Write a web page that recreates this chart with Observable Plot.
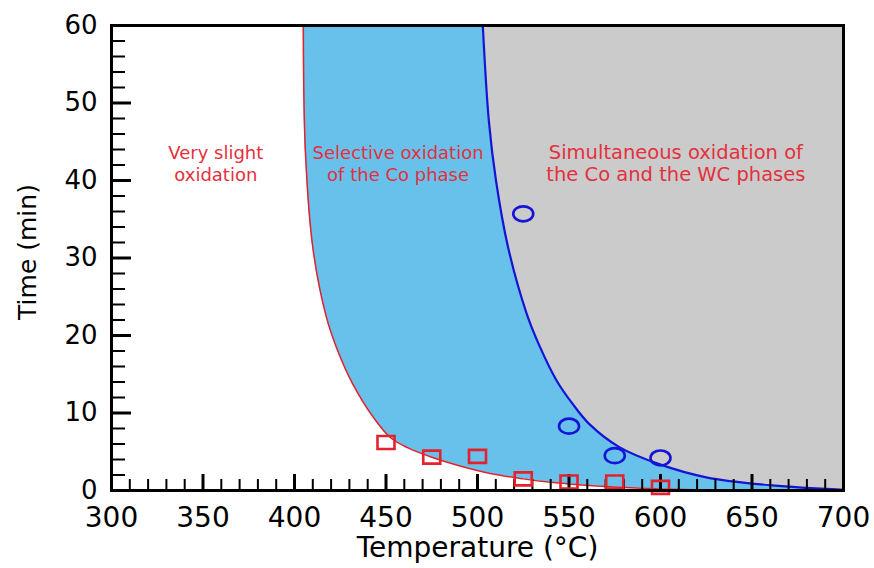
<!DOCTYPE html>
<html>
<head>
<meta charset="utf-8">
<script src="https://cdn.jsdelivr.net/npm/d3@7"></script>
<script src="https://cdn.jsdelivr.net/npm/@observablehq/plot@0.6"></script>
<style>
  html, body { margin: 0; padding: 0; background: #fff; overflow: hidden; }
  #chart svg { display: block; }
</style>
</head>
<body>
<div id="chart"></div>
<script>
// ---- data ----
const xTicks = [300, 350, 400, 450, 500, 550, 600, 650, 700];
const yTicks = [0, 10, 20, 30, 40, 50, 60];
const xMinorTicks = d3.range(310, 700, 10).filter(v => v % 50 !== 0);
const yMinorTicks = d3.range(2, 60, 2).filter(v => v % 10 !== 0);

// red boundary (onset of Co oxidation)
const redCurveTemp = [404.8, 406, 410.2, 417.5, 423.5, 431.7, 443.2, 452.5, 462, 475, 490, 507, 525, 540, 555, 575, 600, 625, 650, 700];
const redCurveTime = [60, 43.5, 31, 22.3, 18.1, 13.8, 9.4, 6.8, 5.5, 4.3, 3.2, 2.2, 1.5, 1.05, 0.75, 0.45, 0.2, 0.05, 0, 0];

// blue boundary (onset of WC oxidation)
const blueCurveTemp = [502.9, 506.2, 510.1, 516.7, 526.9, 534.0, 543.2, 551.9, 561, 577.5, 599.3, 625, 661, 700];
const blueCurveTime = [60, 47.7, 40, 31.4, 22.8, 18.6, 14.2, 11.2, 8.6, 5.6, 3.4, 1.7, 0.65, 0.1];

// measured points
const squareTemp = [450, 475, 500, 525, 550, 575, 600];
const squareTime = [6.2, 4.3, 4.4, 1.5, 1.1, 1.1, 0.4];
const circleTemp = [525, 550, 575, 600];
const circleTime = [35.7, 8.3, 4.5, 4.2];

// region labels
const regionText = ["Very slight\noxidation", "Selective oxidation\nof the Co phase", "Simultaneous oxidation of\nthe Co and the WC phases"];
const regionTemp = [357, 456.6, 608.4];
const regionTime = [42.3, 42.3, 42.3];

const xLabel = "Temperature (°C)";
const yLabel = "Time (min)";

// ---- tables ----
const redCurve = redCurveTemp.map((T, i) => ({T, t: redCurveTime[i]}));
const blueCurve = blueCurveTemp.map((T, i) => ({T, t: blueCurveTime[i]}));
const squares = squareTemp.map((T, i) => ({T, t: squareTime[i]}));
const circles = circleTemp.map((T, i) => ({T, t: circleTime[i]}));
const regions = regionText.map((s, i) => ({s, T: regionTemp[i], t: regionTime[i]}));

// ---- layout ----
const W = 874, H = 568;
const mL = 111, mR = 31, mT = 25, mB = 78;
const innerW = W - mL - mR, innerH = H - mT - mB;

const RED = "#e3222d", BLUE = "#1414d6", FILL_BLUE = "#67c1ea", FILL_GRAY = "#cbcbcb", TEXT_RED = "#e4303e";
const CURVE = "catmull-rom";

const rectSymbol = {draw(ctx) { const a = 8.5, b = 6.5; ctx.moveTo(-a, -b); ctx.lineTo(a, -b); ctx.lineTo(a, b); ctx.lineTo(-a, b); ctx.closePath(); }};
const ellipseSymbol = {draw(ctx) {
  const rx = 10, ry = 7.5, k = 0.5523;
  ctx.moveTo(rx, 0);
  ctx.bezierCurveTo(rx, k * ry, k * rx, ry, 0, ry);
  ctx.bezierCurveTo(-k * rx, ry, -rx, k * ry, -rx, 0);
  ctx.bezierCurveTo(-rx, -k * ry, -k * rx, -ry, 0, -ry);
  ctx.bezierCurveTo(k * rx, -ry, rx, -k * ry, rx, 0);
  ctx.closePath();
}};

const chart = Plot.plot({
  width: W, height: H,
  marginLeft: mL, marginRight: mR, marginTop: mT, marginBottom: mB,
  style: {fontFamily: "'DejaVu Sans', sans-serif", background: "#fff", color: "#000"},
  x: {domain: [300, 700]},
  y: {domain: [0, 60]},
  marks: [
    Plot.areaY(redCurve, {x: "T", y1: "t", y2: 60, curve: CURVE, fill: FILL_BLUE}),
    Plot.areaY(blueCurve, {x: "T", y1: "t", y2: 60, curve: CURVE, fill: FILL_GRAY}),
    Plot.line(redCurve, {x: "T", y: "t", curve: CURVE, stroke: RED, strokeWidth: 1.5}),
    Plot.line(blueCurve, {x: "T", y: "t", curve: CURVE, stroke: BLUE, strokeWidth: 2.2}),
    // inward ticks
    Plot.ruleX(xTicks, {x: d => d, insetTop: innerH - 16, stroke: "#000", strokeWidth: 3}),
    Plot.ruleX(xMinorTicks, {x: d => d, insetTop: innerH - 11, stroke: "#000", strokeWidth: 2}),
    Plot.ruleY(yTicks, {y: d => d, insetRight: innerW - 20, stroke: "#000", strokeWidth: 3}),
    Plot.ruleY(yMinorTicks, {y: d => d, insetRight: innerW - 14, stroke: "#000", strokeWidth: 2}),
    // markers
    Plot.dot(squares, {x: "T", y: "t", symbol: rectSymbol, stroke: RED, strokeWidth: 2.6, fill: "none"}),
    Plot.dot(circles, {x: "T", y: "t", symbol: ellipseSymbol, stroke: BLUE, strokeWidth: 2.6, fill: "none"}),
    // region labels
    Plot.text(regions.slice(0, 2), {x: "T", y: "t", text: "s", fill: TEXT_RED, fontSize: 18, lineHeight: 1.222, lineAnchor: "middle"}),
    Plot.text(regions.slice(2), {x: "T", y: "t", text: "s", fill: TEXT_RED, fontSize: 19.5, lineHeight: 1.128, lineAnchor: "middle"}),
    // axes labels
    Plot.axisX(xTicks, {tickSize: 0, tickPadding: 17, fontSize: 28, label: null, fill: "#000"}),
    Plot.axisY(yTicks, {tickSize: 0, tickPadding: 14, fontSize: 26, label: null, fill: "#000"}),
    Plot.text([xLabel], {frameAnchor: "bottom", text: d => d, dy: 58, fontSize: 28, textAnchor: "middle", lineAnchor: "middle", fill: "#000"}),
    Plot.text([yLabel], {frameAnchor: "left", text: d => d, rotate: -90, dx: -84, dy: -6, fontSize: 25, textAnchor: "middle", lineAnchor: "middle", fill: "#000"}),
    Plot.frame({stroke: "#000", strokeWidth: 3})
  ]
});
document.getElementById("chart").append(chart);
</script>
</body>
</html>
